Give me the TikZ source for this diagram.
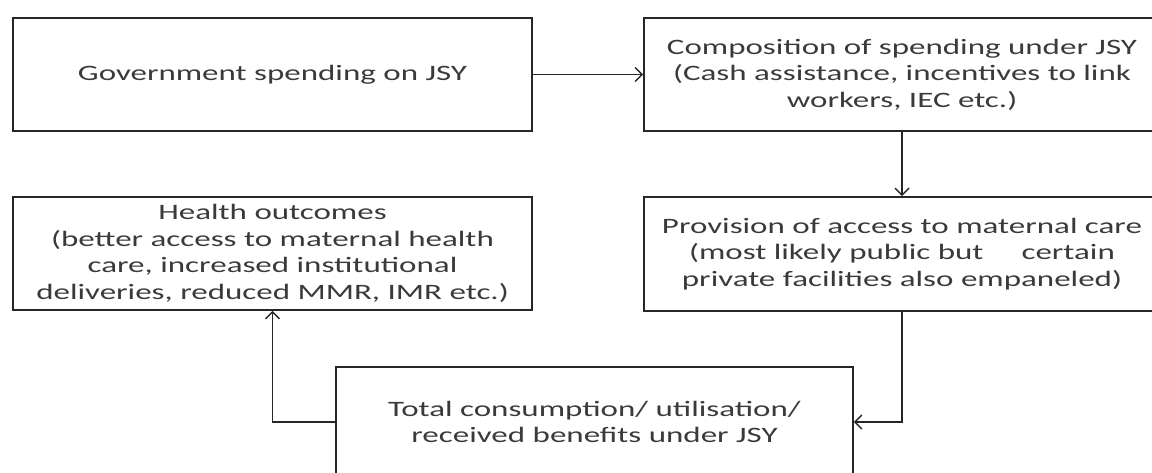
\documentclass[tikz,border=0pt]{standalone}
\usepackage{fontspec}
\setmainfont{Carlito}[FakeStretch=1.5]
\usetikzlibrary{arrows.meta}
\definecolor{txt}{HTML}{3A3A3A}
\definecolor{ln}{HTML}{262626}
\tikzset{
  box/.style={draw=ln, line width=1.6pt, inner sep=0pt, align=center, text=txt,
    font=\fontsize{22}{26.5}\selectfont, minimum height=113pt},
  conn/.style={draw=ln, line width=1.6pt, -{Straight Barb[length=7pt,width=14pt,line width=1.4pt]}}
}
\begin{document}
\begin{tikzpicture}[x=1pt,y=-1pt]
\useasboundingbox (0,0) rectangle (1152,473);
\clip (0,0) rectangle (1152,473);
\node[box, minimum width=519pt] (gov) at (272.5,74.5) {Government spending on JSY};
\node[box, minimum width=516pt] (comp) at (902,74.5) {Composition of spending under JSY\\(Cash assistance, incentives to link\\workers, IEC etc.)};
\node[box, minimum width=516pt, minimum height=114pt] (prov) at (902,254) {Provision of access to maternal care\\(most likely public but\hspace{38pt}certain\\private facilities also empaneled)};
\node[box, minimum width=519pt] (health) at (272.5,253.5) {Health outcomes\\(better access to maternal health\\care, increased institutional\\deliveries, reduced MMR, IMR etc.)};
\node[box, minimum width=517pt, minimum height=110pt] (total) at (594.5,422) {Total consumption/ utilisation/\\received benefits under JSY};
\draw[conn] (gov.east) -- (comp.west);
\draw[conn] (comp.south) -- (prov.north);
\draw[conn] (prov.south) |- (total.east);
\draw[conn] (total.west) -| (health.south);
\end{tikzpicture}
\end{document}
